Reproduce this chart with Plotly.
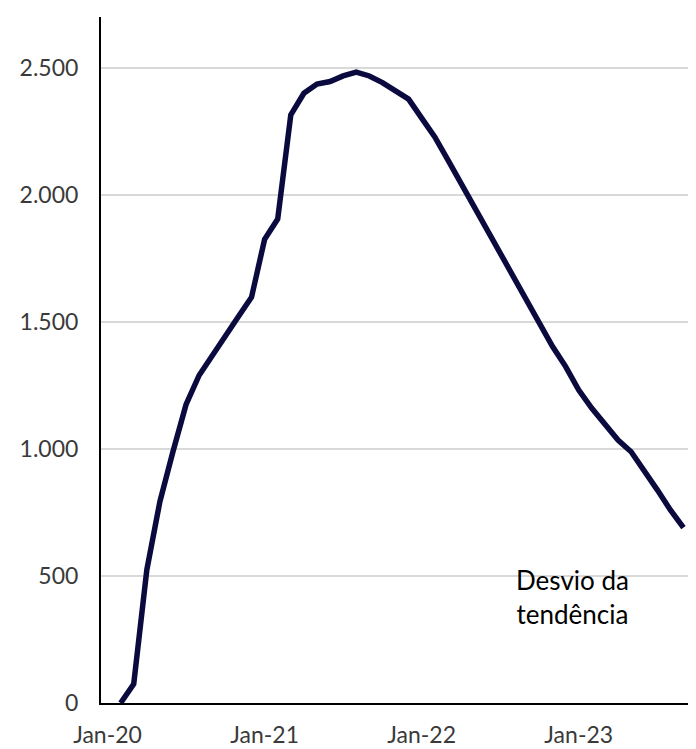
import plotly.graph_objects as go

months = ["Jan", "Feb", "Mar", "Apr", "May", "Jun", "Jul", "Aug", "Sep", "Oct", "Nov", "Dec"]
categories = [f"{m}-{y}" for y in ["20", "21", "22", "23"] for m in months][:45]

desvio = [
    None, 0, 75, 524, 793, 990, 1175, 1290, 1370, 1449, 1521, 1597,
    1825, 1905, 2315, 2400, 2436, 2446, 2468, 2483, 2468, 2442, 2411, 2377,
    2302, 2228, 2138, 2046, 1948, 1856, 1770, 1678, 1587, 1495, 1403, 1324,
    1232, 1160, 1094, 1035, 989, 917, 839, 760, 690,
]

tick_labels = ["Jan-20", "Jan-21", "Jan-22", "Jan-23"]
y_ticks = [0, 500, 1000, 1500, 2000, 2500]
annotation_text = "Desvio da<br>tendência"

fig = go.Figure()
fig.add_trace(go.Scatter(
    x=categories, y=desvio, mode="lines",
    line=dict(color="#0b0a3e", width=5.5),
    connectgaps=False, showlegend=False, hoverinfo="x+y",
))

fig.add_annotation(
    x=35.5, y=418, xref="x", yref="y", text=annotation_text,
    showarrow=False, font=dict(family="Lato", size=26, color="#000000"),
    align="center",
)

# The page body has an 8px margin, so the figure is offset by 8px.
fig.update_layout(
    width=688, height=741,
    margin=dict(l=93, r=6, t=9, b=46),
    paper_bgcolor="white", plot_bgcolor="white",
    separators=",.",
    font=dict(family="Lato", size=23, color="#3a3a3a"),
)
fig.update_xaxes(
    type="category", categoryorder="array", categoryarray=categories,
    range=[-0.5, len(categories) - 0.5], automargin=False,
    tickmode="array", tickvals=tick_labels, ticktext=tick_labels,
    showgrid=False, showline=True, linecolor="#000000", linewidth=2,
    ticks="outside", ticklen=10, tickcolor="rgba(0,0,0,0)", zeroline=False,
    tickfont=dict(family="Lato", size=23, color="#3a3a3a"),
)
fig.update_yaxes(
    range=[0, 2700], tickmode="array", tickvals=y_ticks, tickformat=",d",
    automargin=False,
    showgrid=True, gridcolor="#d9d9d9", gridwidth=2,
    showline=True, linecolor="#000000", linewidth=2,
    ticks="outside", ticklen=16, tickcolor="rgba(0,0,0,0)", zeroline=False,
    tickfont=dict(family="Lato", size=23, color="#3a3a3a"),
)

fig.write_html("out.html")
